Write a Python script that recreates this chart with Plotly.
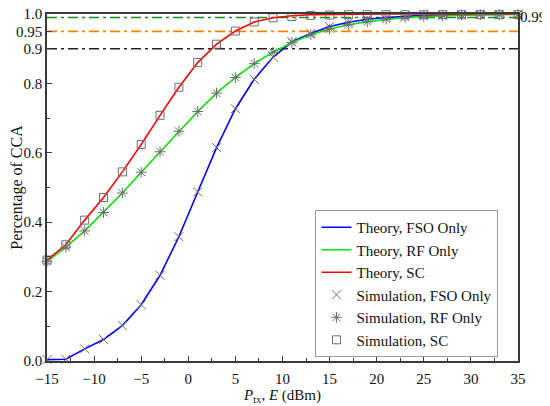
import plotly.graph_objects as go

# transmit power grid (dBm), theory and simulation share it
p_tx = list(range(-15, 36, 2))

# theory curves (percentage of CCA)
theory_fso = [0.004, 0.005, 0.035, 0.062, 0.102, 0.162, 0.247, 0.358, 0.487, 0.615,
              0.727, 0.812, 0.876, 0.920, 0.944, 0.964, 0.976, 0.985, 0.990, 0.994,
              0.996, 0.997, 0.998, 0.999, 0.999, 0.9995]
theory_rf = [0.287, 0.328, 0.375, 0.428, 0.484, 0.544, 0.603, 0.662, 0.719, 0.772,
             0.817, 0.857, 0.890, 0.918, 0.940, 0.957, 0.969, 0.978, 0.985, 0.990,
             0.993, 0.995, 0.997, 0.998, 0.998, 0.999]
theory_sc = [0.291, 0.335, 0.406, 0.471, 0.545, 0.624, 0.708, 0.789, 0.860, 0.913,
             0.951, 0.977, 0.989, 0.995, 0.998, 0.999, 0.9995, 1.0, 1.0, 1.0,
             1.0, 1.0, 1.0, 1.0, 1.0, 1.0]

# simulation points
sim_fso = [0.004, 0.005, 0.035, 0.062, 0.102, 0.162, 0.247, 0.358, 0.487, 0.615,
           0.727, 0.812, 0.876, 0.920, 0.944, 0.964, 0.976, 0.985, 0.990, 0.994,
           0.996, 0.997, 0.998, 0.999, 0.999, 0.9995]
sim_rf = [0.287, 0.328, 0.375, 0.428, 0.484, 0.544, 0.603, 0.662, 0.719, 0.772,
          0.817, 0.857, 0.890, 0.918, 0.940, 0.957, 0.969, 0.978, 0.985, 0.990,
          0.993, 0.995, 0.997, 0.998, 0.998, 0.999]
sim_sc = [0.291, 0.335, 0.406, 0.471, 0.545, 0.624, 0.708, 0.789, 0.860, 0.913,
          0.951, 0.977, 0.989, 0.993, 0.996, 0.997, 0.998, 0.998, 0.998, 0.998,
          0.998, 0.998, 0.998, 0.998, 0.998, 0.998]

# reference levels
levels = [0.9, 0.95, 0.99]
level_colors = ["#222222", "#ff8000", "#1f8a1f"]

y_tickvals = [0.0, 0.2, 0.4, 0.6, 0.8, 0.9, 0.95, 1.0]
y_ticktext = ["0.0", "0.2", "0.4", "0.6", "0.8", "0.9", "0.95", "1.0"]

FONT = "Liberation Serif, Times New Roman, serif"
GRAY = "#6e6e6e"
AXIS = "#3a3a3a"

fig = go.Figure()

for lvl, col in zip(levels, level_colors):
    fig.add_hline(y=lvl, line=dict(color=col, width=1.6, dash="10px,4px,3px,4px"),
                  layer="below")

fig.add_trace(go.Scatter(x=p_tx, y=theory_fso, mode="lines", name="Theory, FSO Only",
                         line=dict(color="#0000ff", width=1.6)))
fig.add_trace(go.Scatter(x=p_tx, y=theory_rf, mode="lines", name="Theory, RF Only",
                         line=dict(color="#00e600", width=1.6)))
fig.add_trace(go.Scatter(x=p_tx, y=theory_sc, mode="lines", name="Theory, SC",
                         line=dict(color="#ff0000", width=1.6)))

fig.add_trace(go.Scatter(x=p_tx, y=sim_fso, mode="markers", name="Simulation, FSO Only",
                         cliponaxis=False,
                         marker=dict(symbol="x-thin-open", size=9, color=GRAY,
                                     line=dict(color=GRAY, width=1))))
fig.add_trace(go.Scatter(x=p_tx, y=sim_rf, mode="markers", name="Simulation, RF Only",
                         cliponaxis=False,
                         marker=dict(symbol="asterisk-open", size=9, color=GRAY,
                                     line=dict(color=GRAY, width=1))))
fig.add_trace(go.Scatter(x=p_tx, y=sim_sc, mode="markers", name="Simulation, SC",
                         cliponaxis=False,
                         marker=dict(symbol="square-open", size=8, color=GRAY,
                                     line=dict(color=GRAY, width=1))))

fig.add_annotation(x=1.0, y=0.99, xref="paper", yref="y", text="0.99",
                   showarrow=False, xanchor="left", yanchor="middle", xshift=0,
                   font=dict(family=FONT, size=15, color="#111"))

# the page body adds an 8px offset, so the figure is sized a little smaller
fig.update_layout(
    width=542, height=398,
    margin=dict(l=39, r=32, t=6, b=45),
    paper_bgcolor="white", plot_bgcolor="white",
    font=dict(family=FONT, size=15, color="#111"),
    showlegend=True,
    legend=dict(x=0.57, y=0.435, xanchor="left", yanchor="top",
                bgcolor="white", bordercolor="#9a9a9a", borderwidth=1,
                font=dict(family=FONT, size=15), tracegroupgap=0,
                itemwidth=30),
)
fig.update_xaxes(
    range=[-15, 35], tickvals=[-15, -10, -5, 0, 5, 10, 15, 20, 25, 30, 35],
    ticks="inside", ticklen=5, tickwidth=1.2, tickcolor=AXIS, ticklabelstandoff=3,
    minor=dict(dtick=2.5, tick0=-15, ticks="inside", ticklen=3, tickcolor=AXIS),
    showline=True, linecolor=AXIS, linewidth=1.5, mirror=True,
    showgrid=False, zeroline=False, automargin=False,
    title=dict(text="<i>P</i><sub>tx</sub>, <i>E</i> (dBm)", standoff=4,
               font=dict(family=FONT, size=15)),
)
fig.update_yaxes(
    range=[0, 1], tickvals=y_tickvals, ticktext=y_ticktext,
    ticks="inside", ticklen=5, tickwidth=1.2, tickcolor=AXIS,
    ticklabeloverflow="allow",
    minor=dict(tickvals=[0.1, 0.3, 0.5, 0.7], ticks="inside", ticklen=3, tickcolor=AXIS),
    showline=True, linecolor=AXIS, linewidth=1.5, mirror=True,
    showgrid=False, zeroline=False, automargin=False,
    title=dict(text="Percentage of CCA", standoff=0, font=dict(family=FONT, size=16)),
)

fig.write_html("out.html")
